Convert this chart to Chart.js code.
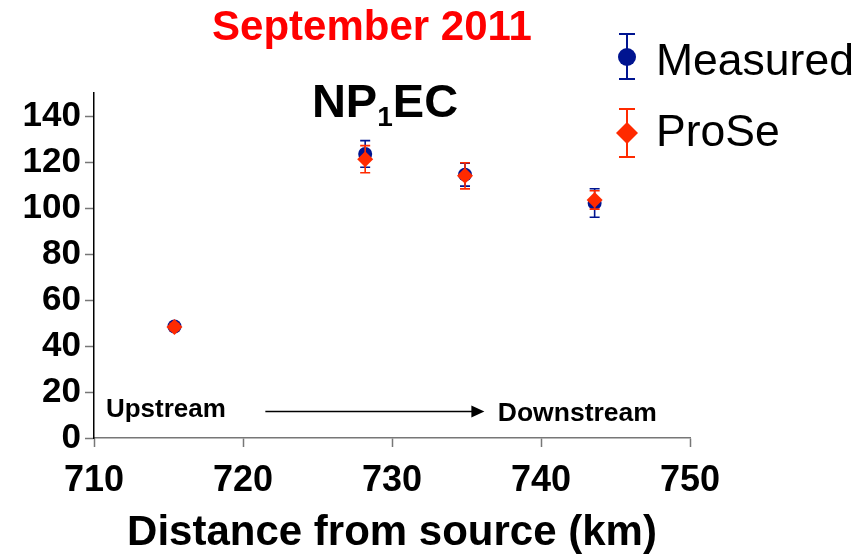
<!DOCTYPE html>
<html>
<head>
<meta charset="utf-8">
<script src="https://cdn.jsdelivr.net/npm/chart.js@4.4.1/dist/chart.umd.min.js"></script>
<style>
html,body{margin:0;padding:0;background:#fff;}
#wrap{width:863px;height:555px;}
</style>
</head>
<body>
<div id="wrap"><canvas id="c" width="863" height="555"></canvas></div>
<script>
// Data
const distanceKm = [715.4, 728.2, 734.9, 743.6];
const measured = [48.5, 123.5, 114.5, 102.2];
const measuredErr = [1.5, 5.8, 5.0, 6.2];
const prose = [48.3, 121.2, 114.0, 103.5];
const proseErr = [1.5, 5.9, 5.7, 4.0];
const xTicks = [710, 720, 730, 740, 750];
const yTicks = [0, 20, 40, 60, 80, 100, 120, 140];

const BLUE = '#001490';
const RED = '#ff2a00';
const FONT = "'Liberation Sans', Arial, sans-serif";

const errorBars = {
  id: 'errorBars',
  beforeDatasetDraw(chart, args) {
    const ds = chart.data.datasets[args.index];
    if (!ds.err) return;
    const ctx = chart.ctx, xs = chart.scales.x, ys = chart.scales.y;
    ctx.save();
    ctx.strokeStyle = ds.borderColor;
    ctx.lineWidth = 1.6;
    ds.data.forEach((p, i) => {
      const x = xs.getPixelForValue(p.x);
      const yt = ys.getPixelForValue(p.y + ds.err[i]);
      const yb = ys.getPixelForValue(p.y - ds.err[i]);
      ctx.beginPath();
      ctx.moveTo(x, yt); ctx.lineTo(x, yb);
      ctx.moveTo(x - 5, yt); ctx.lineTo(x + 5, yt);
      ctx.moveTo(x - 5, yb); ctx.lineTo(x + 5, yb);
      ctx.stroke();
    });
    ctx.restore();
  }
};

const decorations = {
  id: 'decorations',
  afterDraw(chart) {
    const ctx = chart.ctx, xs = chart.scales.x, ys = chart.scales.y;
    ctx.save();
    // Title
    ctx.fillStyle = '#ff0000';
    ctx.font = 'bold 42px ' + FONT;
    ctx.textAlign = 'center';
    ctx.textBaseline = 'alphabetic';
    ctx.fillText('September 2011', 372, 40);
    // Subtitle NP1EC
    ctx.fillStyle = '#000';
    ctx.font = 'bold 47px ' + FONT;
    const wNP = ctx.measureText('NP').width;
    const wEC = ctx.measureText('EC').width;
    ctx.font = 'bold 28px ' + FONT;
    const w1 = ctx.measureText('1').width;
    const total = wNP + w1 + wEC;
    let sx = 385 - total / 2;
    ctx.textAlign = 'left';
    ctx.font = 'bold 47px ' + FONT;
    ctx.fillText('NP', sx, 117);
    ctx.font = 'bold 28px ' + FONT;
    ctx.fillText('1', sx + wNP, 126);
    ctx.font = 'bold 47px ' + FONT;
    ctx.fillText('EC', sx + wNP + w1, 117);

    // Upstream / Downstream annotation
    ctx.font = 'bold 26px ' + FONT;
    ctx.textBaseline = 'middle';
    ctx.fillText('Upstream', xs.getPixelForValue(710.8), ys.getPixelForValue(12.3));
    ctx.font = 'bold 26.5px ' + FONT;
    ctx.fillText('Downstream', xs.getPixelForValue(737.1), ys.getPixelForValue(10.4));
    const ax0 = xs.getPixelForValue(721.5), ax1 = xs.getPixelForValue(736.2);
    const ay = ys.getPixelForValue(11.5);
    ctx.strokeStyle = '#000';
    ctx.lineWidth = 1.6;
    ctx.beginPath(); ctx.moveTo(ax0, ay); ctx.lineTo(ax1 - 10, ay); ctx.stroke();
    ctx.beginPath();
    ctx.moveTo(ax1, ay); ctx.lineTo(ax1 - 13, ay - 6); ctx.lineTo(ax1 - 13, ay + 6);
    ctx.closePath(); ctx.fill();

    // Legend
    const items = [
      {label: 'Measured', color: BLUE, shape: 'circle', cy: 57, top: 34, bot: 79, ty: 63},
      {label: 'ProSe', color: RED, shape: 'diamond', cy: 133, top: 109, bot: 157, ty: 134}
    ];
    items.forEach(it => {
      const lx = 627;
      ctx.strokeStyle = it.color;
      ctx.fillStyle = it.color;
      ctx.lineWidth = 2;
      ctx.beginPath();
      ctx.moveTo(lx, it.top); ctx.lineTo(lx, it.bot);
      ctx.moveTo(lx - 8, it.top); ctx.lineTo(lx + 8, it.top);
      ctx.moveTo(lx - 8, it.bot); ctx.lineTo(lx + 8, it.bot);
      ctx.stroke();
      ctx.beginPath();
      if (it.shape === 'circle') {
        ctx.arc(lx, it.cy, 9, 0, Math.PI * 2);
      } else {
        ctx.moveTo(lx, it.cy - 11); ctx.lineTo(lx + 11, it.cy);
        ctx.lineTo(lx, it.cy + 11); ctx.lineTo(lx - 11, it.cy);
        ctx.closePath();
      }
      ctx.fill();
      ctx.fillStyle = '#000';
      ctx.font = '44.5px ' + FONT;
      ctx.textAlign = 'left';
      ctx.textBaseline = 'middle';
      ctx.fillText(it.label, 656, it.ty);
    });
    ctx.restore();
  }
};

new Chart(document.getElementById('c'), {
  type: 'scatter',
  data: {
    datasets: [
      {
        label: 'ProSe',
        data: distanceKm.map((x, i) => ({x, y: prose[i]})),
        err: proseErr,
        pointStyle: 'rectRot',
        pointRadius: 8,
        backgroundColor: RED,
        borderColor: RED,
        borderWidth: 0
      },
      {
        label: 'Measured',
        data: distanceKm.map((x, i) => ({x, y: measured[i]})),
        err: measuredErr,
        pointStyle: 'circle',
        pointRadius: 7,
        backgroundColor: BLUE,
        borderColor: BLUE,
        borderWidth: 0
      }
    ]
  },
  options: {
    responsive: false,
    animation: false,
    layout: {padding: {top: 93, right: 173, left: 0, bottom: 0}},
    plugins: {legend: {display: false}, tooltip: {enabled: false}},
    scales: {
      x: {
        type: 'linear',
        min: xTicks[0], max: xTicks[xTicks.length - 1],
        afterBuildTicks(s) { s.ticks = xTicks.map(v => ({value: v})); },
        afterFit(s) { s.height = 117; },
        border: {color: '#777', width: 1.5},
        grid: {drawOnChartArea: false, drawTicks: true, tickLength: 9, tickColor: '#777', tickWidth: 1.5},
        ticks: {color: '#000', font: {family: FONT, size: 36, weight: 'bold'}, padding: 12, maxRotation: 0},
        title: {display: true, text: 'Distance from source (km)', color: '#000',
                font: {family: FONT, size: 42, weight: 'bold'}, padding: {top: 0, bottom: -4}}
      },
      y: {
        type: 'linear',
        min: 0, max: 150,
        afterBuildTicks(s) { s.ticks = yTicks.map(v => ({value: v})); },
        afterFit(s) { s.width = 94; },
        border: {color: '#000', width: 1.5},
        grid: {drawOnChartArea: false, drawTicks: true, tickLength: 9, tickColor: '#777', tickWidth: 1.5},
        ticks: {color: '#000', font: {family: FONT, size: 35, weight: 'bold'}, padding: 4}
      }
    }
  },
  plugins: [errorBars, decorations]
});
</script>
</body>
</html>
